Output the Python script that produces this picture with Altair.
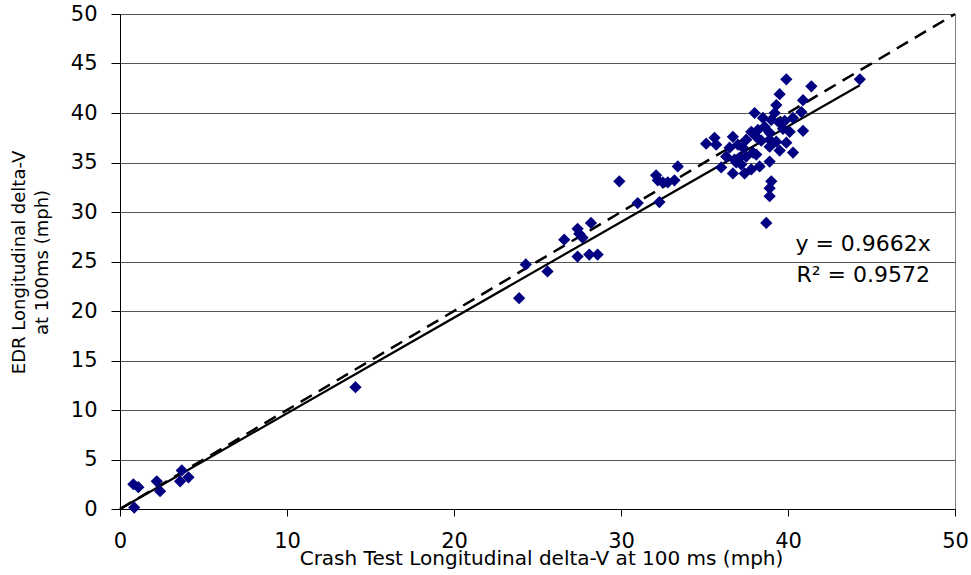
import altair as alt
import pandas as pd

# Crash test vs EDR longitudinal delta-V (mph)
crash_dv = [0.85, 0.8, 1.1, 2.2, 2.4, 3.7, 3.6, 4.1, 14.1,
            23.9, 24.3, 25.6, 26.6, 27.4, 27.5, 27.7, 27.4, 28.2, 28.1, 28.6,
            29.9, 31.0, 32.3, 32.1, 32.2, 32.5, 32.8, 33.2, 33.4,
            35.1, 35.6, 35.7, 36.0, 36.3, 36.5, 36.7, 36.7, 36.8, 37.0,
            37.1, 37.4, 37.5, 37.5, 37.8, 37.8, 37.9, 38.0, 38.1, 38.1,
            38.3, 38.5, 38.7, 38.9, 38.9, 38.9, 38.9, 38.9, 39.0, 39.2,
            39.3, 39.3, 39.5, 39.5, 39.5, 39.9, 39.9, 40.1, 40.3, 40.3,
            40.8, 40.9, 40.9, 41.4, 44.3,
            38.2, 38.6, 39.0, 37.3, 38.4, 39.7, 38.9, 37.2, 36.9, 39.8]
edr_dv = [0.15, 2.5, 2.2, 2.8, 1.8, 3.9, 2.8, 3.2, 12.3,
          21.3, 24.7, 24.0, 27.2, 28.3, 27.8, 27.4, 25.5, 28.9, 25.7, 25.7,
          33.1, 30.9, 31.0, 33.7, 33.2, 33.0, 33.0, 33.2, 34.6,
          36.9, 37.5, 36.8, 34.5, 35.6, 36.5, 37.6, 33.9, 35.3, 36.8,
          35.5, 33.9, 37.3, 35.6, 38.1, 34.3, 36.0, 40.0, 37.6, 35.8,
          34.6, 39.5, 28.9, 38.0, 36.6, 35.1, 32.4, 31.6, 33.1, 40.0,
          40.8, 37.1, 41.9, 39.0, 36.2, 43.4, 37.0, 38.1, 39.5, 36.0,
          40.1, 41.3, 38.2, 42.7, 43.4,
          38.3, 38.6, 39.3, 36.5, 37.2, 38.4, 37.3, 34.8, 35.0, 39.2]

slope = 0.9662
eq_lines = ["y = 0.9662x", "R\u00b2 = 0.9572"]
axis_max = 50

pts = pd.DataFrame({"x": crash_dv, "y": edr_dv})
xmax = max(crash_dv)
trend = pd.DataFrame({"x": [0, xmax], "y": [0, slope * xmax]})
diag = pd.DataFrame({"x": [0, axis_max], "y": [0, axis_max]})

FONT = "DejaVu Sans"

xscale = alt.Scale(domain=[0, axis_max], nice=False, zero=True)
yscale = alt.Scale(domain=[0, axis_max], nice=False, zero=True)

xaxis = alt.Axis(values=[0, 10, 20, 30, 40, 50], grid=False, domainColor="black",
                 tickColor="black", tickSize=7, labelFontSize=21, labelFont=FONT,
                 labelColor="black", labelPadding=14, labelFlush=False,
                 title="Crash Test Longitudinal delta-V at 100 ms (mph)",
                 titleFont=FONT, titleFontSize=20, titleFontWeight="normal",
                 titleColor="black", titleBaseline="alphabetic", titleY=55, titleX=421)
yaxis = alt.Axis(values=[0, 5, 10, 15, 20, 25, 30, 35, 40, 45, 50], grid=True,
                 gridColor="#555555", gridWidth=1, domainColor="black",
                 tickColor="black", tickSize=9, labelFontSize=21, labelFont=FONT,
                 labelColor="black", labelPadding=14,
                 title=["EDR Longitudinal delta-V", "at 100ms (mph)"],
                 titleFont=FONT, titleFontSize=18, titleFontWeight="normal",
                 titleColor="black", titleAngle=-90, titleBaseline="top",
                 titleX=-110, titleY=248, titleLineHeight=23)

points = alt.Chart(pts).mark_point(shape="diamond", filled=True, size=150,
                                   color="#000080", opacity=1).encode(
    x=alt.X("x:Q", scale=xscale, axis=xaxis),
    y=alt.Y("y:Q", scale=yscale, axis=yaxis),
)

diag_line = alt.Chart(diag).mark_line(color="black", strokeWidth=2.5,
                                      strokeDash=[13, 8]).encode(
    x=alt.X("x:Q", scale=xscale), y=alt.Y("y:Q", scale=yscale))

trend_line = alt.Chart(trend).mark_line(color="black", strokeWidth=2.2).encode(
    x=alt.X("x:Q", scale=xscale), y=alt.Y("y:Q", scale=yscale))

eq1 = alt.Chart(pd.DataFrame({"t": [eq_lines[0]]})).mark_text(
    font=FONT, fontSize=22, color="black", align="center", baseline="middle").encode(
    x=alt.datum(44.5, scale=xscale), y=alt.datum(26.8, scale=yscale), text="t:N")
eq2 = alt.Chart(pd.DataFrame({"t": [eq_lines[1]]})).mark_text(
    font=FONT, fontSize=22, color="black", align="center", baseline="middle").encode(
    x=alt.datum(44.5, scale=xscale), y=alt.datum(23.6, scale=yscale), text="t:N")

chart = alt.layer(diag_line, trend_line, points, eq1, eq2).properties(
    width=835, height=495,
    autosize=alt.AutoSizeParams(type="none"),
    padding={"left": 120, "top": 14, "right": 16, "bottom": 66},
    background="white",
).configure_view(stroke="#808080", strokeWidth=1)

chart.save("out.html", embed_options={"renderer": "svg", "actions": False})
